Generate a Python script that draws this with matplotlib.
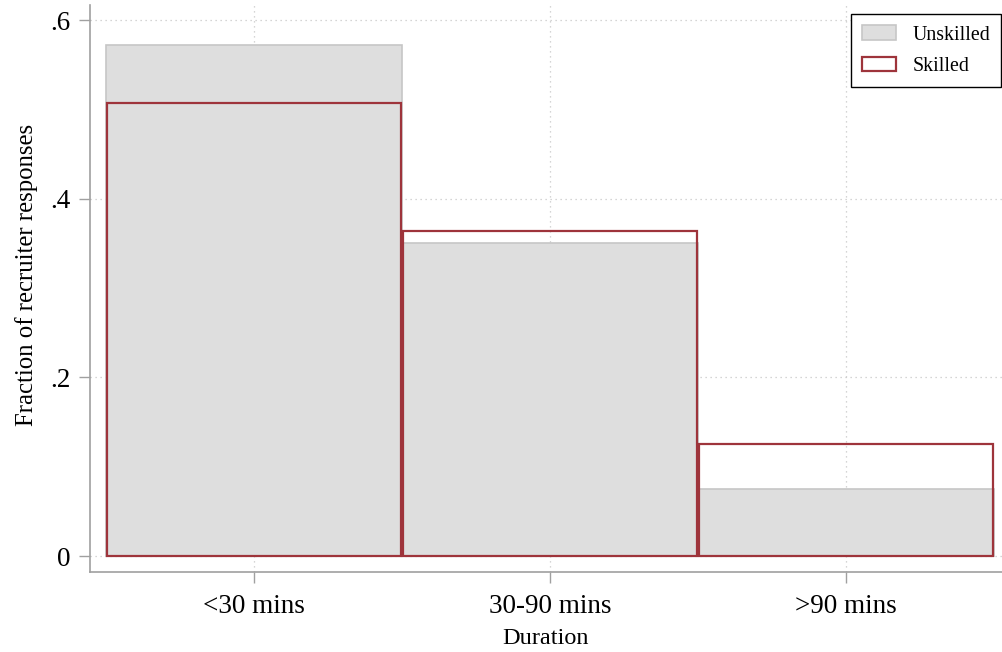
import matplotlib
matplotlib.use("Agg")
import matplotlib.pyplot as plt
from matplotlib.patches import Patch

categories = ["<30 mins", "30-90 mins", ">90 mins"]
unskilled = [0.572, 0.350, 0.075]
skilled = [0.507, 0.364, 0.125]
yticks = [0, 0.2, 0.4, 0.6]
yticklabels = ["0", ".2", ".4", ".6"]

plt.rcParams['font.family'] = ['Liberation Serif', 'DejaVu Serif']

fig = plt.figure(figsize=(10.02, 6.52), dpi=100)
ax = fig.add_axes([90/1002, 1-572/652, 1-90/1002, (572-5)/652])

x = [1, 2, 3]
fill_c = "#dedede"
fill_edge = "#c6c6c6"
red = "#9e343b"

ax.bar(x, unskilled, width=1.0, color=fill_c, edgecolor=fill_edge, linewidth=1.2, zorder=2)
ax.bar(x, skilled, width=0.99, fill=False, edgecolor=red, linewidth=1.6, zorder=3)

ax.set_xlim(0.446, 3.527)
ax.set_ylim(-0.0179, 0.6168)
ax.set_xticks(x)
ax.set_xticklabels(categories, fontsize=19.5)
ax.set_yticks(yticks)
ax.set_yticklabels(yticklabels, fontsize=19.5)

ax.grid(True, linestyle=(0, (1, 3)), color="#c8c8c8", linewidth=0.9, zorder=0)
ax.set_axisbelow(True)

for s in ["top", "right"]:
    ax.spines[s].set_visible(False)
for s in ["left", "bottom"]:
    ax.spines[s].set_color("#a0a0a0")
    ax.spines[s].set_linewidth(1.2)
ax.tick_params(axis="both", colors="#a0a0a0", length=8, width=1.0, labelcolor="black")
ax.tick_params(axis="y", pad=6)
ax.tick_params(axis="x", pad=8)

ax.set_xlabel("Duration", fontsize=17.5, labelpad=6)
ax.set_ylabel("Fraction of recruiter responses", fontsize=17.8)
ax.yaxis.set_label_coords(-0.057, 0.524)

handles = [Patch(facecolor=fill_c, edgecolor=fill_edge, linewidth=1.2, label="Unskilled"),
           Patch(facecolor="white", edgecolor=red, linewidth=1.6, label="Skilled")]
leg = ax.legend(handles=handles, loc="upper right", bbox_to_anchor=(1.0, 0.985),
                fontsize=14.3, fancybox=False, framealpha=1, edgecolor="black",
                handlelength=1.75, handleheight=0.75, borderpad=0.55, labelspacing=0.6,
                handletextpad=0.8, borderaxespad=0.05)
leg.get_frame().set_linewidth(1.0)

fig.savefig("out.png", dpi=100)
